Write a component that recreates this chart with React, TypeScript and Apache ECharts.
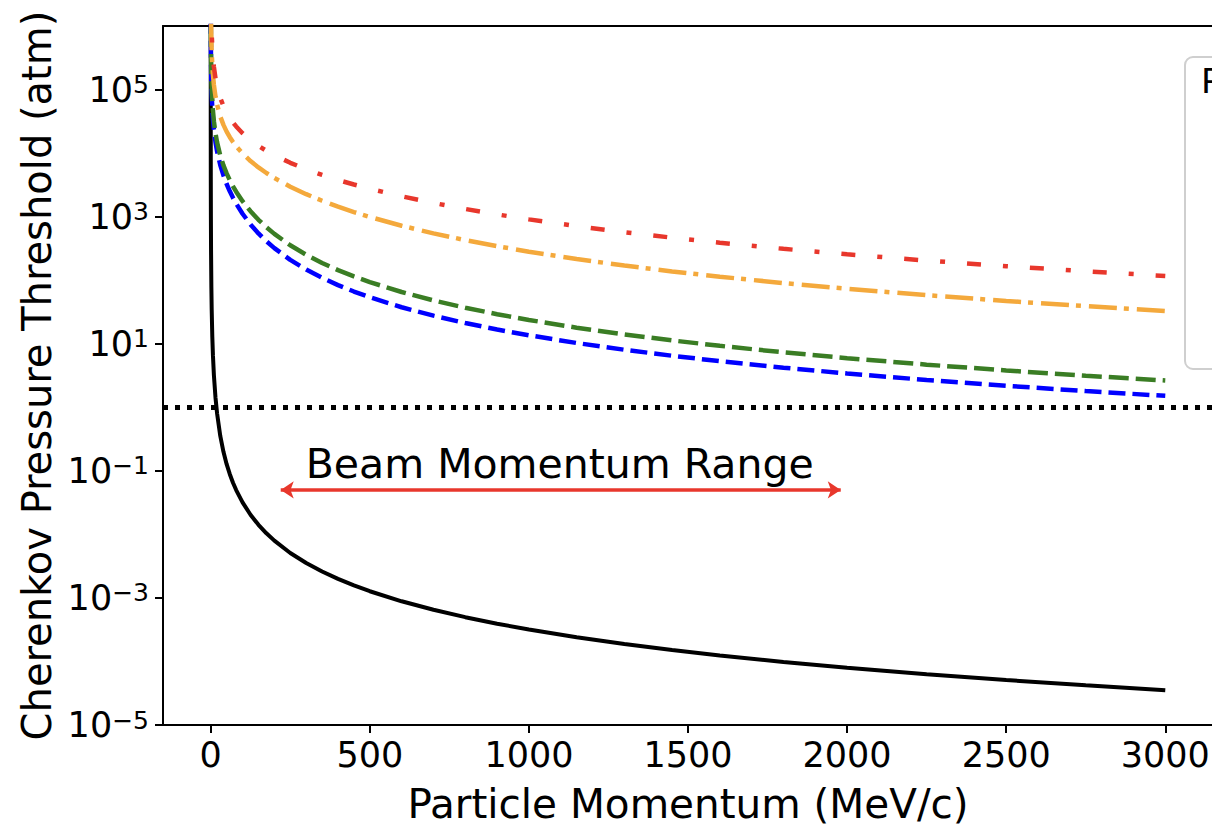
import React, { useEffect, useRef } from "react";
import * as echarts from "echarts";

// Momentum sample points (MeV/c)
const momentum = [0.001, 0.01, 0.05, 0.2, 0.5, 1, 2, 3, 5, 7, 10, 15, 20, 30, 40, 50, 60, 70, 80, 100, 125, 150, 175, 200, 250, 300, 350, 400, 450, 500, 600, 700, 800, 900, 1000, 1150, 1300, 1450, 1600, 1800, 2000, 2250, 2500, 2750, 3000];

// Threshold pressures (atm)
const electronPressure = [1.244e6, 1.222e5, 2.261e4, 4253, 1048.5, 300.0, 78.35, 35.13, 12.7, 6.49, 3.182, 1.415, 0.7961, 0.3538, 0.199, 0.12737, 0.088456, 0.06499, 0.049756, 0.031844, 0.02038, 0.014153, 0.010398, 0.007961, 0.005095, 0.003538, 0.0025995, 0.00199, 0.0015726, 0.0012737, 0.00088456, 0.0006499, 0.00049756, 0.00039314, 0.00031844, 0.00024079, 0.00018843, 0.00015146, 0.00012439, 9.828e-5, 7.961e-5, 6.29e-5, 5.095e-5, 4.211e-5, 3.538e-5];
const muonPressure = [2.577e8, 2.577e7, 5.152e6, 1.286e6, 5.13e5, 2.553e5, 1.2644e5, 8.35e4, 4.916e4, 34456, 23447, 14914, 10675, 6491, 4450, 3263, 2500.3, 1977, 1601.5, 1109.2, 754.6, 544.4, 410.1, 319.5, 208.9, 146.85, 108.72, 83.65, 66.33, 53.86, 37.53, 27.63, 21.18, 16.75, 13.576, 10.273, 8.043, 6.467, 5.312, 4.1985, 3.401, 2.6878, 2.1773, 1.7996, 1.5122];
const pionPressure = [3.404e8, 3.404e7, 6.806e6, 1.7e6, 6.784e5, 3.38e5, 1.6778e5, 1.1106e5, 65687, 46253, 31690, 20386, 14755, 9167, 6414, 4793, 3736.6, 3001, 2465.6, 1748.7, 1216.8, 892.5, 680.7, 535.2, 354.35, 251.0, 186.77, 144.21, 114.62, 93.24, 65.12, 48.01, 36.84, 29.154, 23.641, 17.897, 14.016, 11.273, 9.262, 7.321, 5.932, 4.688, 3.798, 3.1392, 2.638];
const kaonPressure = [1.204e9, 1.204e8, 2.408e7, 6.018e6, 2.406e6, 1.2016e6, 5.996e5, 3.989e5, 2.384e5, 1.6959e5, 1.1799e5, 77870, 57814, 37771, 27763, 21766, 17777, 14934, 12808, 9846, 7497.6, 5951, 4861, 4057, 2959.7, 2257.6, 1778.1, 1435.3, 1181.5, 988.5, 719.5, 545.6, 427.0, 342.84, 281.03, 215.24, 169.95, 137.49, 113.46, 90.07, 73.21, 58.02, 47.1, 38.99, 32.8];
const protonPressure = [2.288e9, 2.288e8, 4.577e7, 1.144e7, 4.574e6, 2.286e6, 1.1418e6, 7.604e5, 4.5526e5, 3.2449e5, 2.2642e5, 1.5014e5, 1.1201e5, 73882, 54824, 43395, 35779, 30344, 26270, 20575, 16030, 13011, 10863, 9260, 7034, 5570, 4539.5, 3780, 3201.1, 2747.2, 2088.2, 1639.8, 1320.2, 1084.3, 905.5, 708.8, 568.9, 466.09, 388.4, 311.46, 255.06, 203.57, 166.12, 138.05, 116.5];

const particleNames = ["Electron", "Muon", "Pion", "Kaon", "Proton"];
const legendTitle = "Particle";

const xTickValues = [0, 500, 1000, 1500, 2000, 2500, 3000];
const xLimits = [-150, 3150];
const yLimits = [1e-5, 1e6];

const atmosphericPressure = 1;
const beamRange = [220, 1980]; // arrow tip to tip (MeV/c)
const beamArrowPressure = 0.05;
const beamLabelText = "Beam Momentum Range";
const beamLabelPoint = [300, 0.05];

const FONT = "'DejaVu Sans', sans-serif";
const RED = "#e8372c";

const toPairs = (ys: number[]) => momentum.map((p, i) => [p, ys[i]]);

export default function App() {
  const ref = useRef<HTMLDivElement>(null);

  useEffect(() => {
    if (!ref.current) return;
    const chart = echarts.init(ref.current, undefined, { renderer: "svg" });

    const lineBase = {
      type: "line",
      showSymbol: false,
      symbol: "none",
      clip: true,
      smooth: false,
      xAxisIndex: 0,
      yAxisIndex: 0,
    };

    const option: any = {
      animation: false,
      backgroundColor: "#ffffff",
      textStyle: { fontFamily: FONT },
      grid: {
        left: 163,
        top: 26,
        width: 1050,
        height: 699,
        containLabel: false,
        outerBoundsMode: "none",
      },
      legend: {
        data: particleNames,
        orient: "vertical",
        left: 1185,
        top: 57,
        padding: [62, 20, 20, 40],
        itemGap: 20,
        itemWidth: 60,
        itemHeight: 30,
        textStyle: { fontSize: 28, color: "#000", fontFamily: FONT, lineHeight: 30 },
        borderColor: "#cfcfcf",
        borderWidth: 2,
        borderRadius: 8,
        backgroundColor: "rgba(255,255,255,0.85)",
      },
      graphic: [
        {
          type: "text",
          left: 1201,
          top: 64,
          z: 100,
          style: { text: legendTitle, fontSize: 34, fill: "#000", fontFamily: FONT },
        },
      ],
      xAxis: [
        {
          type: "value",
          min: xLimits[0],
          max: xLimits[1],
          position: "bottom",
          axisLine: { show: true, onZero: false, lineStyle: { color: "#000", width: 2 } },
          axisTick: { show: true, length: 8, lineStyle: { color: "#000", width: 2 }, customValues: xTickValues },
          axisLabel: {
            show: true,
            customValues: xTickValues,
            formatter: (v: number) => String(Math.round(v)),
            fontSize: 35,
            color: "#000",
            fontFamily: FONT,
            margin: 12,
          },
          splitLine: { show: false },
          name: "Particle Momentum (MeV/c)",
          nameLocation: "middle",
          nameGap: 58,
          nameTextStyle: { fontSize: 40.5, color: "#000", fontFamily: FONT },
        },
        {
          type: "value",
          min: xLimits[0],
          max: xLimits[1],
          position: "top",
          axisLine: { show: true, onZero: false, lineStyle: { color: "#000", width: 2 } },
          axisTick: { show: false },
          axisLabel: { show: false },
          splitLine: { show: false },
        },
      ],
      yAxis: [
        {
          type: "log",
          logBase: 10,
          min: yLimits[0],
          max: yLimits[1],
          interval: 2,
          position: "left",
          axisLine: { show: true, onZero: false, lineStyle: { color: "#000", width: 2 } },
          axisTick: { show: true, length: 8, lineStyle: { color: "#000", width: 2 } },
          axisLabel: {
            show: true,
            margin: 14,
            fontSize: 35,
            color: "#000",
            fontFamily: FONT,
            showMaxLabel: false,
            formatter: (v: number) => {
              const e = Math.round(Math.log10(v));
              if (e % 2 === 0 || e > 5) return "";
              const s = e < 0 ? "\u2212" + Math.abs(e) : String(e);
              return `{b|10}{s|${s}}`;
            },
            rich: {
              b: { fontSize: 35, color: "#000", fontFamily: FONT },
              s: { fontSize: 25, color: "#000", fontFamily: FONT, verticalAlign: "top" },
            },
          },
          splitLine: { show: false },
          minorTick: { show: false },
          name: "Cherenkov Pressure Threshold (atm)",
          nameLocation: "middle",
          nameGap: 106,
          nameTextStyle: { fontSize: 40, color: "#000", fontFamily: FONT },
        },
        {
          type: "value",
          min: 0,
          max: 1,
          position: "right",
          axisLine: { show: true, onZero: false, lineStyle: { color: "#000", width: 2 } },
          axisTick: { show: false },
          axisLabel: { show: false },
          splitLine: { show: false },
        },
      ],
      series: [
        {
          ...lineBase,
          name: particleNames[0],
          data: toPairs(electronPressure),
          lineStyle: { color: "#000000", width: 4, type: "solid" },
          itemStyle: { color: "#000000" },
          markLine: {
            silent: true,
            symbol: "none",
            label: { show: false },
            lineStyle: { color: "#000", width: 5, type: [5, 7] },
            data: [{ yAxis: atmosphericPressure }],
          },
        },
        {
          ...lineBase,
          name: particleNames[1],
          data: toPairs(muonPressure),
          lineStyle: { color: "#0000ff", width: 4.5, type: [17, 7] },
          itemStyle: { color: "#0000ff" },
        },
        {
          ...lineBase,
          name: particleNames[2],
          data: toPairs(pionPressure),
          lineStyle: { color: "#3a7d24", width: 4.5, type: [20, 7] },
          itemStyle: { color: "#3a7d24" },
        },
        {
          ...lineBase,
          name: particleNames[3],
          data: toPairs(kaonPressure),
          lineStyle: { color: "#f4a93c", width: 4.5, type: [28, 7, 5, 8] },
          itemStyle: { color: "#f4a93c" },
        },
        {
          ...lineBase,
          name: particleNames[4],
          data: toPairs(protonPressure),
          lineStyle: { color: RED, width: 4.5, type: [14, 22, 5, 22] },
          itemStyle: { color: RED },
        },
        {
          type: "scatter",
          name: "beam",
          xAxisIndex: 0,
          yAxisIndex: 0,
          z: 1,
          symbolSize: 1,
          itemStyle: { color: "#ffffff", opacity: 1 },
          data: [beamLabelPoint],
          label: {
            show: true,
            position: [0, -5],
            align: "left",
            verticalAlign: "bottom",
            formatter: beamLabelText,
            fontSize: 41,
            color: "#000000",
            opacity: 1,
            fontFamily: FONT,
          },
          markLine: {
            silent: true,
            z: 5,
            symbol: ["arrow", "arrow"],
            symbolSize: [13, 13],
            label: { show: false },
            lineStyle: { color: RED, width: 3.5, type: "solid" },
            data: [
              [
                { coord: [beamRange[0], beamArrowPressure] },
                { coord: [beamRange[1], beamArrowPressure] },
              ],
            ],
          },
        },
      ],
    };

    chart.setOption(option);
    return () => chart.dispose();
  }, []);

  return (
    <div style={{ position: "fixed", left: 0, top: 0, width: 1212, height: 825, overflow: "hidden", background: "#fff" }}>
      <div ref={ref} style={{ width: 1500, height: 825 }} />
    </div>
  );
}
